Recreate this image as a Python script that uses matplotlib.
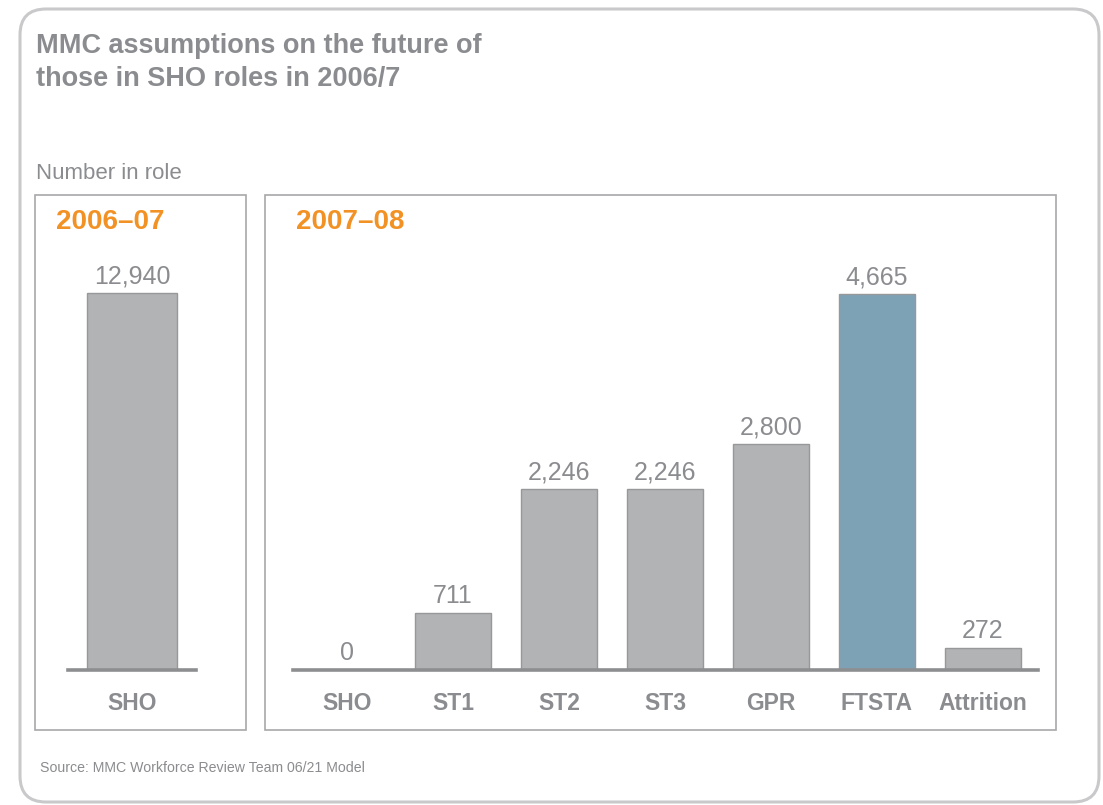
import matplotlib
matplotlib.use("Agg")
import matplotlib.pyplot as plt
from matplotlib.patches import Rectangle, FancyBboxPatch

# ---- data ----
left_categories = ["SHO"]
left_values = [12940]
left_period = "2006–07"

right_categories = ["SHO", "ST1", "ST2", "ST3", "GPR", "FTSTA", "Attrition"]
right_values = [0, 711, 2246, 2246, 2800, 4665, 272]
right_period = "2007–08"

title_lines = ["MMC assumptions on the future of", "those in SHO roles in 2006/7"]
ylabel_text = "Number in role"
source_text = "Source: MMC Workforce Review Team 06/21 Model"

# ---- style ----
W, H = 1103, 805
DPI = 100
GRAY_TXT = "#8b8c8f"
BAR_FILL = "#b2b3b5"
BAR_EDGE = "#97989a"
BLUE = "#7ea2b5"
BASE = "#8d8e90"
ORANGE = "#f39224"
BOX = "#a8a8aa"
OUTER = "#c9c9cb"

plt.rcParams['font.family'] = ['Liberation Sans', 'DejaVu Sans']

fig = plt.figure(figsize=(W / DPI, H / DPI), dpi=DPI)
fig.patch.set_facecolor("white")

def fx(x):
    return x / W

def fy(y):
    return 1 - y / H

# outer rounded frame (inches coords for round corners)
outer = FancyBboxPatch((20 / DPI, (H - 802) / DPI), (1079) / DPI, (793) / DPI,
                       boxstyle="round,pad=0,rounding_size=0.26",
                       transform=fig.dpi_scale_trans, facecolor="none",
                       edgecolor=OUTER, linewidth=2.2)
fig.add_artist(outer)

# panel boxes
for (x0, y0, x1, y1) in [(35, 195, 246, 730), (265, 195, 1056, 730)]:
    r = Rectangle((fx(x0), fy(y1)), fx(x1) - fx(x0), fy(y0) - fy(y1),
                  transform=fig.transFigure, facecolor="none",
                  edgecolor=BOX, linewidth=1.2)
    fig.add_artist(r)

# title
fig.text(fx(36), fy(53), title_lines[0], fontsize=19.5, fontweight="bold",
         color=GRAY_TXT, va="baseline", ha="left")
fig.text(fx(36), fy(86), title_lines[1], fontsize=19.5, fontweight="bold",
         color=GRAY_TXT, va="baseline", ha="left")
fig.text(fx(36), fy(179), ylabel_text, fontsize=16, color=GRAY_TXT,
         va="baseline", ha="left")
fig.text(fx(56), fy(229), left_period, fontsize=20, fontweight="bold",
         color=ORANGE, va="baseline", ha="left")
fig.text(fx(296), fy(229), right_period, fontsize=20, fontweight="bold",
         color=ORANGE, va="baseline", ha="left")
fig.text(fx(40), fy(772), source_text, fontsize=10.2, color=GRAY_TXT,
         va="baseline", ha="left")

BASE_Y = 670
AX_TOP = 250


def make_panel(x0, x1, cats, vals, colors, first_center, spacing, bar_w_px, top_px):
    ax = fig.add_axes([fx(x0), fy(BASE_Y), fx(x1) - fx(x0), fy(AX_TOP) - fy(BASE_Y)])
    n = len(cats)
    xs = list(range(n))
    ax.bar(xs, vals, width=bar_w_px / spacing, color=colors, edgecolor=BAR_EDGE,
           linewidth=1.0, zorder=2)
    ax.set_xlim(-(first_center - x0) / spacing, (n - 1) + (x1 - (first_center + (n - 1) * spacing)) / spacing)
    vmax = max(vals)
    ax.set_ylim(0, vmax * (BASE_Y - AX_TOP) / (BASE_Y - top_px))
    ax.axhline(0, color=BASE, linewidth=2.6, zorder=3, clip_on=False)
    for x, v in zip(xs, vals):
        ax.annotate(f"{v:,}", (x, v), xytext=(0, 3.5), textcoords="offset points",
                    ha="center", va="bottom", fontsize=18, color=GRAY_TXT)
    ax.set_xticks(xs)
    ax.set_xticklabels(cats, fontsize=16.5, fontweight="bold", color=GRAY_TXT)
    ax.tick_params(axis="x", length=0, pad=16)
    ax.set_yticks([])
    for s in ax.spines.values():
        s.set_visible(False)
    ax.patch.set_alpha(0)
    return ax


make_panel(68, 196, left_categories, left_values, [BAR_FILL],
           first_center=132, spacing=106, bar_w_px=90, top_px=293)

right_colors = [BLUE if c == "FTSTA" else BAR_FILL for c in right_categories]
make_panel(293, 1038, right_categories, right_values, right_colors,
           first_center=347, spacing=106, bar_w_px=76, top_px=294)

fig.savefig("out.png", dpi=DPI)
